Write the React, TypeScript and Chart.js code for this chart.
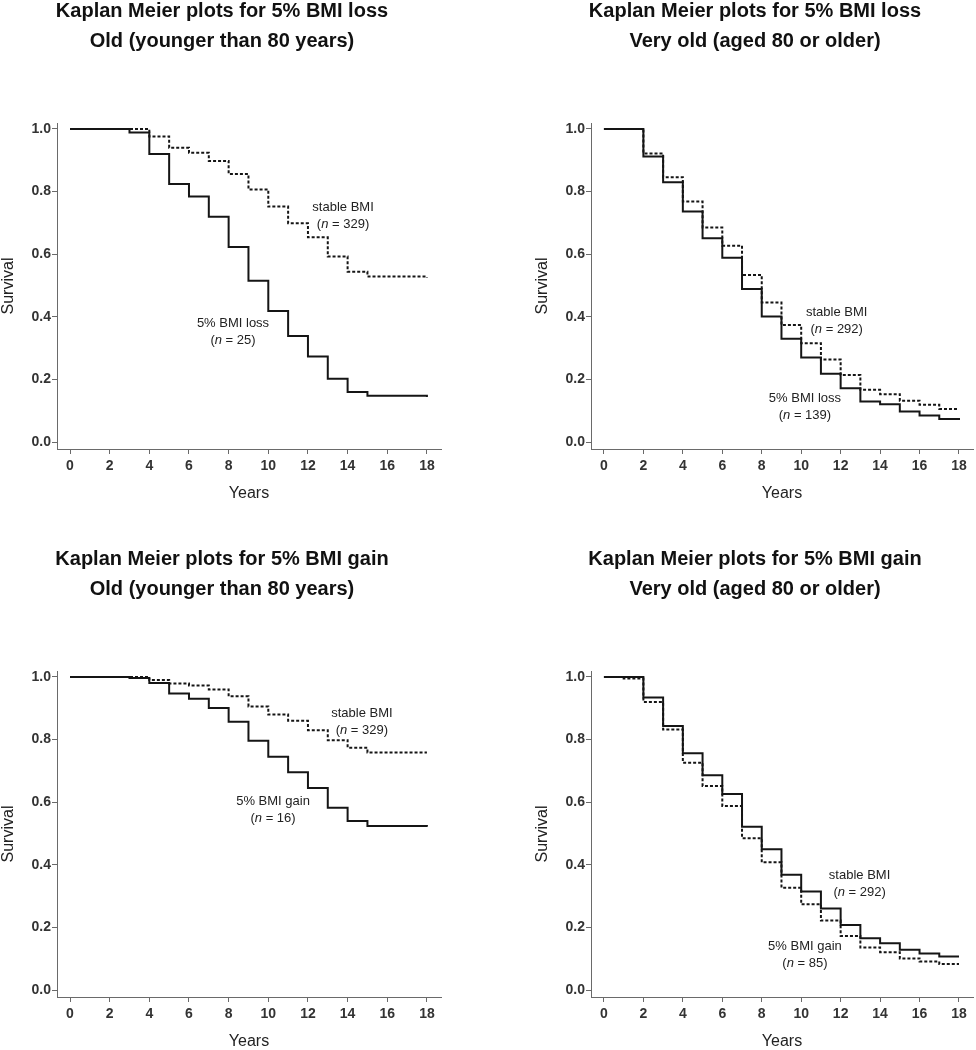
import React, { useEffect, useRef } from 'react';
import { Chart, registerables } from 'chart.js';

Chart.register(...registerables);

// ---------- tick labels ----------
const xTickValues = [0, 2, 4, 6, 8, 10, 12, 14, 16, 18];
const yTickValues = [0, 0.2, 0.4, 0.6, 0.8, 1.0];

// ---------- Panel A: 5% BMI loss, old (<80) ----------
const oldLossYears = [0, 3, 4, 5, 6, 7, 8, 9, 10, 11, 12, 13, 14, 15, 18];
const oldLossSurv = [1, 0.989, 0.92, 0.824, 0.784, 0.72, 0.623, 0.515, 0.419, 0.339, 0.273, 0.202, 0.16, 0.148, 0.144];
const oldStableAYears = [0, 4, 5, 6, 7, 8, 9, 10, 11, 12, 13, 14, 15, 18];
const oldStableASurv = [1, 0.976, 0.94, 0.924, 0.898, 0.856, 0.807, 0.752, 0.699, 0.654, 0.593, 0.544, 0.529, 0.526];

// ---------- Panel B: 5% BMI loss, very old (>=80) ----------
const vOldLossYears = [0, 2, 3, 4, 5, 6, 7, 8, 9, 10, 11, 12, 13, 14, 15, 16, 17, 18];
const vOldLossSurv = [1, 0.912, 0.83, 0.736, 0.651, 0.589, 0.489, 0.401, 0.33, 0.27, 0.218, 0.172, 0.13, 0.121, 0.098, 0.085, 0.074, 0.071];
const vOldStableBYears = [0, 2, 3, 4, 5, 6, 7, 8, 9, 10, 11, 12, 13, 14, 15, 16, 17, 18];
const vOldStableBSurv = [1, 0.922, 0.846, 0.768, 0.685, 0.627, 0.534, 0.446, 0.374, 0.316, 0.264, 0.214, 0.167, 0.153, 0.132, 0.119, 0.106, 0.106];

// ---------- Panel C: 5% BMI gain, old (<80) ----------
const oldGainYears = [0, 3, 4, 5, 6, 7, 8, 9, 10, 11, 12, 13, 14, 15, 18];
const oldGainSurv = [1, 0.997, 0.981, 0.947, 0.93, 0.901, 0.857, 0.796, 0.745, 0.696, 0.645, 0.582, 0.54, 0.524, 0.522];
const oldStableCYears = [0, 4, 5, 6, 7, 8, 9, 10, 11, 12, 13, 14, 15, 18];
const oldStableCSurv = [1, 0.99, 0.979, 0.973, 0.96, 0.938, 0.906, 0.88, 0.86, 0.83, 0.798, 0.774, 0.759, 0.759];

// ---------- Panel D: 5% BMI gain, very old (>=80) ----------
const vOldStableDYears = [0, 2, 3, 4, 5, 6, 7, 8, 9, 10, 11, 12, 13, 14, 15, 16, 17, 18];
const vOldStableDSurv = [1, 0.934, 0.843, 0.756, 0.686, 0.626, 0.522, 0.45, 0.368, 0.315, 0.261, 0.208, 0.166, 0.15, 0.129, 0.117, 0.107, 0.107];
const vOldGainYears = [0, 1, 2, 3, 4, 5, 6, 7, 8, 9, 10, 11, 12, 13, 14, 15, 16, 17, 18];
const vOldGainSurv = [1, 0.995, 0.92, 0.832, 0.726, 0.652, 0.588, 0.485, 0.408, 0.327, 0.274, 0.222, 0.173, 0.136, 0.121, 0.101, 0.091, 0.083, 0.083];

const FONT = "'Liberation Sans', Arial, Helvetica, sans-serif";
const AXIS_COLOR = '#6a6a6a';
const LINE_COLOR = '#151515';
const TEXT_COLOR = '#222';

type Label = { x: number; y: number; text: string; n: string };

type PanelProps = {
  title1: string;
  title2: string;
  solidYears: number[];
  solidSurv: number[];
  dottedYears: number[];
  dottedSurv: number[];
  labels: Label[];
  left: number;
  top: number;
  padLeft: number;
  padRight: number;
};

const toPoints = (xs: number[], ys: number[]) => xs.map((x, i) => ({ x, y: ys[i] }));

function Panel(p: PanelProps) {
  const ref = useRef<HTMLCanvasElement | null>(null);
  useEffect(() => {
    if (!ref.current) return;
    const overlay = {
      id: 'overlay',
      afterDraw(chart: any) {
        const ctx = chart.ctx as CanvasRenderingContext2D;
        const ca = chart.chartArea;
        ctx.save();
        ctx.fillStyle = '#111';
        ctx.textAlign = 'center';
        ctx.textBaseline = 'alphabetic';
        ctx.font = `bold 20px ${FONT}`;
        const cx = (ca.left + ca.right) / 2 - 27;
        ctx.fillText(p.title1, cx, 17);
        ctx.fillText(p.title2, cx, 47);

        const xs = chart.scales.x;
        const ys = chart.scales.y;
        ctx.fillStyle = TEXT_COLOR;
        ctx.textBaseline = 'middle';
        for (const lb of p.labels) {
          const px = xs.getPixelForValue(lb.x);
          const py = ys.getPixelForValue(lb.y);
          ctx.font = `13px ${FONT}`;
          ctx.textAlign = 'center';
          ctx.fillText(lb.text, px, py);
          // second line: "(n = N)" with italic n
          const regular = `13px ${FONT}`;
          const italic = `italic 13px ${FONT}`;
          const parts: [string, string][] = [
            ['(', regular],
            ['n', italic],
            [` = ${lb.n})`, regular],
          ];
          let total = 0;
          for (const [t, f] of parts) {
            ctx.font = f;
            total += ctx.measureText(t).width;
          }
          let sx = px - total / 2;
          ctx.textAlign = 'left';
          for (const [t, f] of parts) {
            ctx.font = f;
            ctx.fillText(t, sx, py + 17);
            sx += ctx.measureText(t).width;
          }
        }
        ctx.restore();
      },
    };

    const chart = new Chart(ref.current, {
      type: 'line',
      data: {
        datasets: [
          {
            data: toPoints(p.dottedYears, p.dottedSurv),
            stepped: true,
            borderColor: LINE_COLOR,
            borderWidth: 2,
            borderDash: [3, 2],
            pointRadius: 0,
            fill: false,
          },
          {
            data: toPoints(p.solidYears, p.solidSurv),
            stepped: true,
            borderColor: LINE_COLOR,
            borderWidth: 2,
            pointRadius: 0,
            fill: false,
          },
        ],
      },
      options: {
        responsive: false,
        animation: false,
        devicePixelRatio: 1,
        layout: { padding: { top: 123, left: p.padLeft, right: p.padRight, bottom: 0 } },
        plugins: { legend: { display: false }, tooltip: { enabled: false }, title: { display: false } },
        scales: {
          x: {
            type: 'linear',
            min: -0.656,
            max: 18.71,
            afterBuildTicks: (s: any) => {
              s.ticks = xTickValues.map((v) => ({ value: v }));
            },
            afterFit: (s: any) => {
              s.height = 53;
            },
            ticks: {
              autoSkip: false,
              maxRotation: 0,
              padding: 4,
              color: '#333',
              font: { family: FONT, size: 14, weight: 'bold' },
              callback: (v: any) => String(v),
            },
            grid: { drawOnChartArea: false, drawTicks: true, tickLength: 5, color: AXIS_COLOR },
            border: { display: true, color: AXIS_COLOR, width: 1 },
            title: {
              display: true,
              text: 'Years',
              color: TEXT_COLOR,
              padding: 0,
              font: { family: FONT, size: 16, lineHeight: 1 },
            },
          },
          y: {
            type: 'linear',
            min: -0.022,
            max: 1.019,
            afterBuildTicks: (s: any) => {
              s.ticks = yTickValues.map((v) => ({ value: v }));
            },
            afterFit: (s: any) => {
              s.width = 57;
            },
            ticks: {
              padding: 1,
              color: '#333',
              font: { family: FONT, size: 14, weight: 'bold' },
              callback: (v: any) => Number(v).toFixed(1),
            },
            grid: { drawOnChartArea: false, drawTicks: true, tickLength: 5, color: AXIS_COLOR },
            border: { display: true, color: AXIS_COLOR, width: 1 },
            title: {
              display: true,
              text: 'Survival',
              color: TEXT_COLOR,
              padding: { top: 1, bottom: 0 },
              font: { family: FONT, size: 16, lineHeight: 1 },
            },
          },
        },
      },
      plugins: [overlay],
    } as any);
    return () => chart.destroy();
  }, []);
  return (
    <canvas
      ref={ref}
      width={488}
      height={502}
      style={{ position: 'absolute', left: p.left, top: p.top, width: 488, height: 502 }}
    />
  );
}

export default function App() {
  return (
    <div style={{ position: 'absolute', left: 0, top: 0, width: 976, height: 1050, background: '#fff', overflow: 'hidden' }}>
      <Panel
        title1="Kaplan Meier plots for 5% BMI loss"
        title2="Old (younger than 80 years)"
        solidYears={oldLossYears}
        solidSurv={oldLossSurv}
        dottedYears={oldStableAYears}
        dottedSurv={oldStableASurv}
        labels={[
          { x: 13.77, y: 0.748, text: 'stable BMI', n: '329' },
          { x: 8.22, y: 0.38, text: '5% BMI loss', n: '25' },
        ]}
        left={0}
        top={0}
        padLeft={0}
        padRight={47}
      />
      <Panel
        title1="Kaplan Meier plots for 5% BMI loss"
        title2="Very old (aged 80 or older)"
        solidYears={vOldLossYears}
        solidSurv={vOldLossSurv}
        dottedYears={vOldStableBYears}
        dottedSurv={vOldStableBSurv}
        labels={[
          { x: 11.8, y: 0.415, text: 'stable BMI', n: '292' },
          { x: 10.19, y: 0.141, text: '5% BMI loss', n: '139' },
        ]}
        left={488}
        top={0}
        padLeft={46}
        padRight={3}
      />
      <Panel
        title1="Kaplan Meier plots for 5% BMI gain"
        title2="Old (younger than 80 years)"
        solidYears={oldGainYears}
        solidSurv={oldGainSurv}
        dottedYears={oldStableCYears}
        dottedSurv={oldStableCSurv}
        labels={[
          { x: 14.72, y: 0.885, text: 'stable BMI', n: '329' },
          { x: 10.24, y: 0.604, text: '5% BMI gain', n: '16' },
        ]}
        left={0}
        top={548}
        padLeft={0}
        padRight={47}
      />
      <Panel
        title1="Kaplan Meier plots for 5% BMI gain"
        title2="Very old (aged 80 or older)"
        solidYears={vOldStableDYears}
        solidSurv={vOldStableDSurv}
        dottedYears={vOldGainYears}
        dottedSurv={vOldGainSurv}
        labels={[
          { x: 12.96, y: 0.367, text: 'stable BMI', n: '292' },
          { x: 10.19, y: 0.141, text: '5% BMI gain', n: '85' },
        ]}
        left={488}
        top={548}
        padLeft={46}
        padRight={3}
      />
    </div>
  );
}
